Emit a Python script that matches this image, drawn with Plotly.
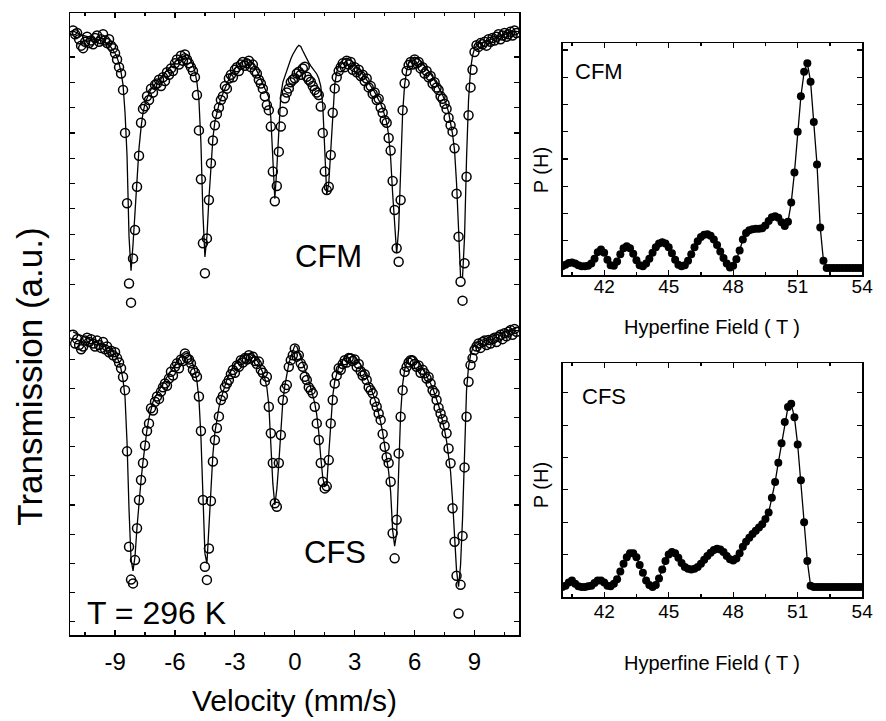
import plotly.graph_objects as go

# ---------------- data ----------------
velocity = [
    -11.1, -11.0, -10.9, -10.8, -10.7, -10.6, -10.5, -10.4, -10.3, -10.2,
    -10.1, -10.0, -9.9, -9.8, -9.7, -9.6, -9.5, -9.4, -9.3, -9.2,
    -9.1, -9.0, -8.9, -8.8, -8.7, -8.6, -8.5, -8.4, -8.3, -8.2,
    -8.1, -8.0, -7.9, -7.8, -7.7, -7.6, -7.5, -7.4, -7.3, -7.2,
    -7.1, -7.0, -6.9, -6.8, -6.7, -6.6, -6.5, -6.4, -6.3, -6.2,
    -6.1, -6.0, -5.9, -5.8, -5.7, -5.6, -5.5, -5.4, -5.3, -5.2,
    -5.1, -5.0, -4.9, -4.8, -4.7, -4.6, -4.5, -4.4, -4.3, -4.2,
    -4.1, -4.0, -3.9, -3.8, -3.7, -3.6, -3.5, -3.4, -3.3, -3.2,
    -3.1, -3.0, -2.9, -2.8, -2.7, -2.6, -2.5, -2.4, -2.3, -2.2,
    -2.1, -2.0, -1.9, -1.8, -1.7, -1.6, -1.5, -1.4, -1.3, -1.2,
    -1.1, -1.0, -0.9, -0.8, -0.7, -0.6, -0.5, -0.4, -0.3, -0.2,
    -0.1, 0.0, 0.1, 0.2, 0.3, 0.4, 0.5, 0.6, 0.7, 0.8,
    0.9, 1.0, 1.1, 1.2, 1.3, 1.4, 1.5, 1.6, 1.7, 1.8,
    1.9, 2.0, 2.1, 2.2, 2.3, 2.4, 2.5, 2.6, 2.7, 2.8,
    2.9, 3.0, 3.1, 3.2, 3.3, 3.4, 3.5, 3.6, 3.7, 3.8,
    3.9, 4.0, 4.1, 4.2, 4.3, 4.4, 4.5, 4.6, 4.7, 4.8,
    4.9, 5.0, 5.1, 5.2, 5.3, 5.4, 5.5, 5.6, 5.7, 5.8,
    5.9, 6.0, 6.1, 6.2, 6.3, 6.4, 6.5, 6.6, 6.7, 6.8,
    6.9, 7.0, 7.1, 7.2, 7.3, 7.4, 7.5, 7.6, 7.7, 7.8,
    7.9, 8.0, 8.1, 8.2, 8.3, 8.4, 8.5, 8.6, 8.7, 8.8,
    8.9, 9.0, 9.1, 9.2, 9.3, 9.4, 9.5, 9.6, 9.7, 9.8,
    9.9, 10.0, 10.1, 10.2, 10.3, 10.4, 10.5, 10.6, 10.7, 10.8,
    10.9, 11.0, 11.1,
]

cfm_data = [
    11.05, 10.9, 10.95, 10.7, 10.45, 10.35, 10.6, 10.8, 10.55, 10.65,
    10.5, 10.75, 10.85, 10.6, 10.7, 10.9, 10.65, 10.55, 10.7, 10.45,
    10.35, 10.15, 9.9, 9.6, 9.35, 8.7, 7.0, 4.22, 1.05, 0.29,
    2.04, 3.16, 4.87, 6.1, 7.4, 7.95, 8.05, 8.45, 8.3, 8.75,
    8.6, 8.9, 8.95, 9.1, 8.85, 9.2, 9.05, 9.4, 9.3, 9.55,
    9.45, 9.75, 9.9, 9.7, 10.05, 9.85, 10.1, 9.9, 9.75, 9.6,
    9.45, 9.2, 8.5, 7.1, 5.17, 2.64, 1.45, 2.83, 4.35, 5.8,
    6.7, 7.3, 7.75, 8.0, 8.3, 8.45, 8.85, 8.75, 9.15, 9.3,
    9.2, 9.5, 9.6, 9.45, 9.7, 9.8, 9.65, 9.75, 9.85, 9.6,
    9.7, 9.45, 9.35, 9.1, 8.95, 8.75, 8.45, 8.1, 7.9, 7.25,
    5.47, 4.3, 4.9, 6.26, 7.25, 7.84, 8.37, 8.6, 8.76, 9.0,
    9.1, 9.16, 9.35, 9.42, 9.3, 9.55, 9.62, 9.22, 9.1, 9.02,
    8.85, 8.7, 8.6, 8.5, 8.04, 7.0, 5.47, 4.74, 4.87, 6.13,
    7.8, 8.76, 9.2, 9.45, 9.6, 9.75, 9.6, 9.85, 9.7, 9.8,
    9.5, 9.6, 9.4, 9.5, 9.25, 9.3, 9.05, 9.15, 8.8, 8.85,
    8.55, 8.6, 8.3, 8.35, 8.0, 7.8, 7.5, 7.4, 6.8, 6.3,
    5.1, 3.95, 2.44, 1.91, 4.35, 7.9, 8.96, 9.45, 9.68, 9.8,
    9.7, 9.9, 9.75, 9.8, 9.55, 9.6, 9.35, 9.45, 9.2, 9.25,
    8.95, 9.0, 8.8, 8.7, 8.45, 8.35, 8.15, 7.95, 7.6, 7.3,
    7.05, 6.39, 4.6, 2.9, 1.12, 0.37, 1.85, 5.27, 7.7, 8.8,
    9.5, 10.2, 10.47, 10.4, 10.55, 10.5, 10.6, 10.45, 10.7, 10.6,
    10.75, 10.65, 10.8, 10.9, 10.7, 10.85, 10.95, 10.8, 10.9, 11.0,
    10.85, 11.05, 10.95,
]

cfm_fit = [
    11.02, 10.98, 10.95, 10.92, 10.89, 10.86, 10.83, 10.81, 10.79, 10.77,
    10.75, 10.73, 10.71, 10.68, 10.65, 10.61, 10.57, 10.52, 10.46, 10.38,
    10.28, 10.15, 9.98, 9.75, 9.4, 8.9, 7.8, 6.1, 2.9, 1.55,
    2.6, 3.9, 5.2, 6.4, 7.2, 7.8, 8.15, 8.4, 8.58, 8.72,
    8.84, 8.95, 9.04, 9.12, 9.2, 9.28, 9.37, 9.46, 9.55, 9.64,
    9.73, 9.82, 9.91, 9.99, 10.06, 10.11, 10.14, 10.1, 10.0, 9.86,
    9.67, 9.42, 9.0, 8.3, 6.6, 3.8, 2.1, 2.9, 4.4, 5.8,
    6.8, 7.45, 7.85, 8.12, 8.36, 8.57, 8.77, 8.96, 9.13, 9.29,
    9.43, 9.55, 9.65, 9.73, 9.8, 9.85, 9.88, 9.9, 9.88, 9.83,
    9.74, 9.62, 9.45, 9.3, 9.12, 8.95, 8.8, 8.65, 8.4, 7.6,
    6.0, 4.4, 5.6, 7.2, 8.5, 9.0, 9.25, 9.5, 9.72, 9.92,
    10.1, 10.25, 10.37, 10.46, 10.42, 10.25, 10.08, 9.92, 9.78, 9.65,
    9.54, 9.44, 9.33, 9.15, 8.85, 8.1, 6.2, 4.55, 5.0, 6.3,
    7.7, 8.9, 9.4, 9.65, 9.8, 9.88, 9.93, 9.95, 9.93, 9.88,
    9.81, 9.73, 9.64, 9.54, 9.44, 9.33, 9.22, 9.1, 8.98, 8.86,
    8.74, 8.61, 8.47, 8.32, 8.15, 7.96, 7.73, 7.42, 6.9, 6.0,
    4.6, 3.3, 2.24, 3.2, 5.6, 7.8, 8.9, 9.45, 9.74, 9.89,
    9.96, 9.99, 9.97, 9.92, 9.85, 9.77, 9.67, 9.56, 9.45, 9.33,
    9.21, 9.08, 8.95, 8.81, 8.66, 8.5, 8.32, 8.1, 7.82, 7.45,
    6.95, 6.3, 5.0, 3.2, 1.3, 1.3, 2.9, 6.0, 8.3, 9.5,
    10.05, 10.33, 10.46, 10.52, 10.55, 10.58, 10.61, 10.64, 10.67, 10.7,
    10.73, 10.76, 10.79, 10.82, 10.85, 10.88, 10.9, 10.92, 10.94, 10.96,
    10.98, 11.0, 11.02,
]

cfs_data = [
    10.3, 10.0, 10.15, 9.95, 9.8, 9.9, 10.1, 10.2, 10.05, 10.15,
    10.0, 9.9, 10.1, 9.95, 9.85, 10.05, 9.8, 9.9, 9.7, 9.75,
    9.6, 9.7, 9.5, 9.35, 9.15, 8.85, 8.4, 6.3, 3.03, 1.9,
    1.77, 2.57, 3.66, 4.63, 5.32, 5.9, 6.5, 7.0, 7.26, 7.78,
    7.7, 8.0, 8.18, 8.1, 8.35, 8.5, 8.63, 8.55, 8.8, 9.03,
    8.9, 9.2, 9.32, 9.15, 9.45, 9.4, 9.66, 9.5, 9.45, 9.32,
    9.1, 9.0, 8.86, 8.18, 7.0, 4.63, 2.34, 1.89, 2.97, 4.6,
    5.95, 6.69, 7.1, 7.5, 8.06, 8.2, 8.5, 8.63, 8.75, 8.95,
    9.09, 9.0, 9.25, 9.2, 9.43, 9.35, 9.5, 9.45, 9.6, 9.5,
    9.55, 9.4, 9.3, 9.38, 9.1, 9.0, 8.7, 8.86, 7.83, 6.92,
    5.9, 4.52, 4.4, 5.9, 6.86, 8.06, 8.46, 8.58, 9.2, 9.43,
    9.6, 9.83, 9.55, 9.6, 9.32, 9.2, 8.86, 8.75, 8.5, 8.4,
    8.29, 7.83, 7.26, 6.69, 5.9, 5.26, 5.03, 5.1, 6.0, 7.26,
    8.06, 8.63, 8.9, 9.15, 9.1, 9.3, 9.43, 9.35, 9.5, 9.49,
    9.4, 9.45, 9.2, 9.3, 9.05, 8.9, 8.95, 8.75, 8.5, 8.4,
    8.29, 8.0, 7.83, 7.6, 7.38, 6.9, 6.46, 6.1, 5.9, 5.26,
    3.49, 2.63, 3.95, 6.23, 7.49, 8.4, 9.03, 9.2, 9.35, 9.43,
    9.4, 9.3, 9.2, 9.25, 9.0, 9.1, 8.98, 8.8, 8.85, 8.63,
    8.4, 8.3, 8.06, 7.8, 7.6, 7.4, 7.2, 6.92, 6.4, 5.89,
    4.35, 3.2, 2.03, 0.74, 1.72, 3.4, 5.75, 7.49, 8.69, 9.26,
    9.5, 9.78, 9.9, 10.0, 9.85, 10.05, 10.1, 9.95, 10.12, 10.0,
    10.15, 10.2, 10.05, 10.23, 10.3, 10.15, 10.35, 10.25, 10.4, 10.46,
    10.3, 10.5, 10.4,
]

cfs_fit = [
    10.4, 10.37, 10.34, 10.31, 10.28, 10.25, 10.22, 10.19, 10.16, 10.13,
    10.1, 10.07, 10.04, 10.01, 9.98, 9.95, 9.92, 9.88, 9.84, 9.79,
    9.72, 9.63, 9.52, 9.37, 9.12, 8.75, 8.15, 6.6, 4.3, 2.6,
    2.2, 2.7, 3.7, 4.6, 5.3, 5.95, 6.55, 7.05, 7.45, 7.78,
    8.0, 8.15, 8.28, 8.4, 8.52, 8.63, 8.74, 8.85, 8.96, 9.07,
    9.18, 9.29, 9.4, 9.5, 9.59, 9.66, 9.71, 9.72, 9.66, 9.52,
    9.3, 9.05, 8.7, 8.1, 6.8, 4.6, 2.8, 2.45, 3.7, 5.1,
    6.2, 6.95, 7.45, 7.8, 8.1, 8.35, 8.57, 8.76, 8.93, 9.08,
    9.2, 9.31, 9.4, 9.48, 9.54, 9.59, 9.62, 9.64, 9.64, 9.62,
    9.57, 9.5, 9.42, 9.32, 9.18, 9.0, 8.8, 8.5, 7.9, 6.6,
    5.2, 4.46, 5.0, 5.9, 7.1, 8.0, 8.55, 8.95, 9.3, 9.55,
    9.78, 9.93, 9.9, 9.72, 9.52, 9.33, 9.14, 8.95, 8.74, 8.5,
    8.25, 7.95, 7.55, 6.95, 6.1, 5.4, 5.1, 5.15, 6.2, 7.4,
    8.2, 8.7, 9.0, 9.2, 9.33, 9.45, 9.54, 9.6, 9.64, 9.65,
    9.62, 9.56, 9.48, 9.38, 9.27, 9.14, 9.0, 8.85, 8.68, 8.5,
    8.3, 8.1, 7.88, 7.62, 7.3, 6.95, 6.55, 6.1, 5.6, 4.9,
    3.6, 3.05, 3.5, 5.6, 7.6, 8.6, 9.1, 9.35, 9.5, 9.57,
    9.58, 9.55, 9.48, 9.38, 9.26, 9.14, 9.02, 8.9, 8.77, 8.63,
    8.48, 8.3, 8.1, 7.88, 7.63, 7.35, 7.03, 6.65, 6.2, 5.6,
    4.6, 3.4, 2.2, 1.66, 2.4, 4.0, 6.6, 8.4, 9.2, 9.6,
    9.82, 9.95, 10.02, 10.06, 10.09, 10.12, 10.15, 10.18, 10.2, 10.23,
    10.25, 10.28, 10.3, 10.33, 10.35, 10.38, 10.4, 10.43, 10.45, 10.47,
    10.49, 10.51, 10.53,
]

field_T = [
    40.05, 40.2, 40.35, 40.5, 40.65, 40.8, 40.95, 41.1, 41.25, 41.4,
    41.55, 41.7, 41.85, 42.0, 42.15, 42.3, 42.45, 42.6, 42.75, 42.9,
    43.05, 43.2, 43.35, 43.5, 43.65, 43.8, 43.95, 44.1, 44.25, 44.4,
    44.55, 44.7, 44.85, 45.0, 45.15, 45.3, 45.45, 45.6, 45.75, 45.9,
    46.05, 46.2, 46.35, 46.5, 46.65, 46.8, 46.95, 47.1, 47.25, 47.4,
    47.55, 47.7, 47.85, 48.0, 48.15, 48.3, 48.45, 48.6, 48.75, 48.9,
    49.05, 49.2, 49.35, 49.5, 49.65, 49.8, 49.95, 50.1, 50.25, 50.4,
    50.55, 50.7, 50.85, 51.0, 51.15, 51.3, 51.45, 51.6, 51.75, 51.9,
    52.05, 52.2, 52.35, 52.5, 52.65, 52.8, 52.95, 53.1, 53.25, 53.4,
    53.55, 53.7, 53.85, 54.0,
]

cfm_ph = [
    0.03, 0.06, 0.09, 0.1, 0.08, 0.05, 0.03, 0.03, 0.04, 0.08,
    0.17, 0.29, 0.34, 0.28, 0.15, 0.05, 0.04, 0.12, 0.25, 0.36,
    0.4, 0.36, 0.26, 0.14, 0.05, 0.03, 0.08, 0.17, 0.28, 0.38,
    0.45, 0.47, 0.45, 0.38, 0.27, 0.15, 0.06, 0.03, 0.05, 0.13,
    0.25, 0.38, 0.49, 0.57, 0.61, 0.62, 0.59, 0.52, 0.42, 0.3,
    0.18, 0.08, 0.01, 0.04, 0.16, 0.32, 0.52, 0.64, 0.69, 0.71,
    0.72, 0.72, 0.73, 0.78, 0.86, 0.93, 0.95, 0.92, 0.84, 0.77,
    0.85, 1.2, 1.75, 2.5, 3.15, 3.6, 3.76, 3.42, 2.68, 1.9,
    0.74, 0.13, 0.0, 0.0, 0.0, 0.0, 0.0, 0.0, 0.0, 0.0,
    0.0, 0.0, 0.0, 0.0,
]

cfs_ph = [
    0.0, 0.02, 0.07, 0.1, 0.05, 0.01, 0.0, 0.0, 0.01, 0.02,
    0.06, 0.1, 0.1, 0.07, 0.02, 0.01, 0.05, 0.12, 0.24, 0.36,
    0.46, 0.52, 0.52, 0.46, 0.34, 0.22, 0.1, 0.03, 0.0, 0.03,
    0.13, 0.27, 0.4, 0.5, 0.54, 0.52, 0.45, 0.37, 0.31, 0.28,
    0.27, 0.28, 0.31, 0.36, 0.42, 0.48, 0.53, 0.57, 0.59, 0.58,
    0.54, 0.48, 0.43, 0.41, 0.44, 0.52, 0.62, 0.7, 0.76, 0.82,
    0.87, 0.92, 0.97, 1.05, 1.15, 1.38, 1.62, 1.92, 2.22, 2.55,
    2.78, 2.83, 2.62, 2.2, 1.65, 1.0, 0.4, 0.02, 0.0, 0.0,
    0.0, 0.0, 0.0, 0.0, 0.0, 0.0, 0.0, 0.0, 0.0, 0.0,
    0.0, 0.0, 0.0, 0.0,
]

velocity_ticks = [-9, -6, -3, 0, 3, 6, 9]
velocity_ticktext = ["-9", "-6", "-3", "0", "3", "6", "9"]
field_ticks = [42, 45, 48, 51, 54]

# ---------------- figure ----------------
FONT = "Liberation Sans, Arial, Helvetica, sans-serif"
W, H = 886, 721

fig = go.Figure()

open_marker = dict(symbol="circle-open", size=9, color="black", line=dict(width=1.5, color="black"))
fig.add_trace(go.Scatter(x=velocity, y=cfm_data, mode="markers", marker=open_marker,
                         xaxis="x", yaxis="y", showlegend=False, hoverinfo="skip"))
fig.add_trace(go.Scatter(x=velocity, y=cfm_fit, mode="lines", line=dict(color="black", width=1.3),
                         xaxis="x", yaxis="y", showlegend=False, hoverinfo="skip"))
fig.add_trace(go.Scatter(x=velocity, y=cfs_data, mode="markers", marker=open_marker,
                         xaxis="x2", yaxis="y2", showlegend=False, hoverinfo="skip"))
fig.add_trace(go.Scatter(x=velocity, y=cfs_fit, mode="lines", line=dict(color="black", width=1.3),
                         xaxis="x2", yaxis="y2", showlegend=False, hoverinfo="skip"))

dot_marker = dict(symbol="circle", size=8, color="black")
fig.add_trace(go.Scatter(x=field_T, y=cfm_ph, mode="lines+markers", marker=dot_marker,
                         line=dict(color="black", width=1.3), xaxis="x3", yaxis="y3",
                         showlegend=False, hoverinfo="skip"))
fig.add_trace(go.Scatter(x=field_T, y=cfs_ph, mode="lines+markers", marker=dot_marker,
                         line=dict(color="black", width=1.3), xaxis="x4", yaxis="y4",
                         showlegend=False, hoverinfo="skip"))

base = dict(showline=True, linecolor="black", linewidth=1.5, ticks="inside", tickcolor="black",
            tickwidth=1.2, showgrid=False, zeroline=False, fixedrange=True)

def px_x(p):
    return p / W

def px_y(p):
    return 1 - p / H

main_dom_x = [px_x(71), px_x(526)]
minor_ticks = dict(ticks="inside", tickmode="linear", tick0=0, dtick=1.5, ticklen=3,
                   tickcolor="black", tickwidth=1.2)

fig.update_layout(
    width=W, height=H,
    margin=dict(l=0, r=0, t=0, b=0),
    paper_bgcolor="white", plot_bgcolor="white",
    font=dict(family=FONT, color="black"),
    showlegend=False,
    hovermode=False,
    xaxis=dict(**base, domain=main_dom_x, anchor="y", side="top", range=[-11.25, 11.25],
               tickvals=velocity_ticks, ticklen=5, showticklabels=False, mirror=False,
               minor=minor_ticks),
    yaxis=dict(**base, domain=[px_y(310), px_y(13)], anchor="x", range=[0, 11.74],
               tickvals=[0, 1, 2, 3, 4, 5, 6, 7, 8, 9, 10, 11], ticklen=5,
               showticklabels=False, mirror="ticks"),
    xaxis2=dict(**base, domain=main_dom_x, anchor="y2", side="bottom", range=[-11.25, 11.25],
                tickvals=velocity_ticks, ticktext=velocity_ticktext, ticklen=5,
                tickfont=dict(size=24, family=FONT), ticklabelstandoff=5, mirror=False,
                minor=minor_ticks),
    yaxis2=dict(**base, domain=[px_y(635), px_y(310)], anchor="x2", range=[0, 11.15],
                tickvals=[0.46, 1.46, 2.46, 3.46, 4.46, 5.46, 6.46, 7.46, 8.46, 9.46, 10.46],
                ticklen=5, showticklabels=False, mirror="ticks"),
    xaxis3=dict(**base, domain=[px_x(570), px_x(873)], anchor="y3", range=[40.08, 54.0],
                tickvals=field_ticks, ticklen=5, tickfont=dict(size=19, family=FONT),
                ticklabelstandoff=-6, mirror="ticks", minor=minor_ticks),
    yaxis3=dict(**base, domain=[px_y(275), px_y(43)], anchor="x3", range=[-0.13, 4.13],
                tickvals=[0.5, 1.0, 1.5, 2.0, 2.5, 3.0, 3.5, 4.0], ticklen=5,
                showticklabels=False, mirror="ticks"),
    xaxis4=dict(**base, domain=[px_x(570), px_x(873)], anchor="y4", range=[40.08, 54.0],
                tickvals=field_ticks, ticklen=5, tickfont=dict(size=19, family=FONT),
                ticklabelstandoff=-3, mirror="ticks", minor=minor_ticks),
    yaxis4=dict(**base, domain=[px_y(597), px_y(363)], anchor="x4", range=[-0.155, 3.46],
                tickvals=[0.5, 1.0, 1.5, 2.0, 2.5, 3.0], ticklen=5,
                showticklabels=False, mirror="ticks"),
)

def label(text, x, y, size, angle=0):
    fig.add_annotation(text=text, x=px_x(x), y=px_y(y), xref="paper", yref="paper",
                       xanchor="center", yanchor="middle", showarrow=False, textangle=angle,
                       font=dict(size=size, family=FONT, color="black"))

label("Transmission (a.u.)", 29, 377, 35, -90)
label("Velocity (mm/s)", 298, 700, 30)
label("CFM", 333, 256, 31)
label("CFS", 339, 552, 31)
label("T = 296 K", 158, 613, 32)
label("CFM", 607, 72, 22)
label("CFS", 612, 396, 22)
label("P (H)", 548, 170, 20, -90)
label("P (H)", 548, 485, 20, -90)
label("Hyperfine Field ( T )", 721, 327, 20)
label("Hyperfine Field ( T )", 721, 663, 20)

fig.write_html("out.html", config={"displayModeBar": False, "staticPlot": True},
               post_script="document.body.style.margin='0';document.body.style.padding='0';")
